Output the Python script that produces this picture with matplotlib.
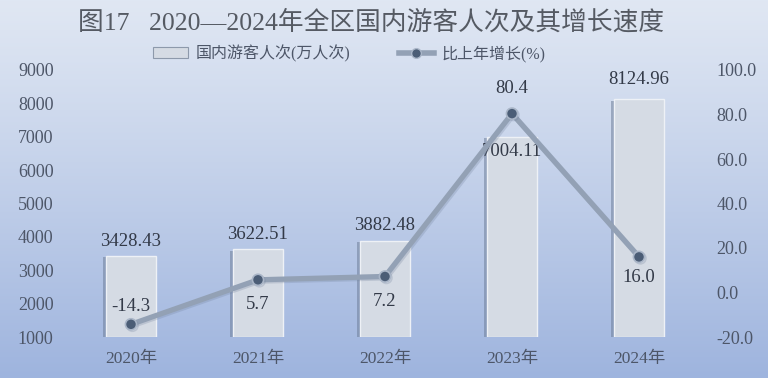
import numpy as np
import matplotlib
matplotlib.use("Agg")
import matplotlib.pyplot as plt
from matplotlib.patches import Rectangle
from matplotlib.lines import Line2D
import matplotlib.patheffects as pe

plt.rcParams['font.family'] = ['Liberation Serif', 'Noto Sans CJK SC', 'DejaVu Sans']

years = ["2020年", "2021年", "2022年", "2023年", "2024年"]
visitors = [3428.43, 3622.51, 3882.48, 7004.11, 8124.96]
growth = [-14.3, 5.7, 7.2, 80.4, 16.0]
left_ticks = [1000, 2000, 3000, 4000, 5000, 6000, 7000, 8000, 9000]
right_ticks = [-20, 0, 20, 40, 60, 80, 100]

TXT = '#4d5668'
BAR_FACE = '#d5dbe4'
LINE_C = '#93a1b5'
MARK_C = '#4b5d76'

fig = plt.figure(figsize=(7.68, 3.78), dpi=100)

# gradient background
bg = fig.add_axes([0, 0, 1, 1], zorder=-10)
grad = np.linspace(0, 1, 256).reshape(-1, 1)
top = np.array([0.878, 0.906, 0.953])
bot = np.array([0.620, 0.706, 0.871])
img = top + (bot - top) * grad[:, :, None] ** 1.1
bg.imshow(img, aspect='auto', extent=[0, 1, 0, 1])
bg.axis('off')

ax = fig.add_axes([67.5 / 768, 41 / 378, 635 / 768, 267 / 378])
ax.patch.set_alpha(0)
x = np.arange(len(years))
bars = ax.bar(x, np.array(visitors) - 1000, bottom=1000, width=0.39,
              color=BAR_FACE, edgecolor='#eef1f6', linewidth=1.0, zorder=2)
for b in bars:
    b.set_path_effects([pe.SimplePatchShadow(offset=(-2.5, -1), shadow_rgbFace='#6f7f9a', alpha=0.55),
                        pe.Normal()])
ax.set_xlim(-0.5, len(years) - 0.5)
ax.set_ylim(1000, 9000)
ax.set_yticks(left_ticks)
ax.set_xticks(x)
ax.set_xticklabels(years, fontsize=12.5, color=TXT)
ax.tick_params(axis='y', length=0, pad=10, labelsize=13, labelcolor=TXT)
ax.tick_params(axis='x', length=0, pad=10)
for s in ax.spines.values():
    s.set_visible(False)

bar_offsets = [10.5, 11, 11, -11, 14]
for xi, v, off in zip(x, visitors, bar_offsets):
    ax.annotate(f"{v:.2f}", (xi, v), xytext=(0, off), textcoords='offset points',
                ha='center', va='center', fontsize=13.5, color='#333a48', zorder=5)

ax2 = ax.twinx()
ax2.patch.set_alpha(0)
ax2.plot(x, growth, color=LINE_C, linewidth=3.8, solid_capstyle='round',
         marker='o', markersize=8, markerfacecolor=MARK_C, markeredgecolor='#aab6c8',
         markeredgewidth=1.2, zorder=4,
         path_effects=[pe.SimpleLineShadow(offset=(1, -1), shadow_color='#6f7f9a', alpha=0.25), pe.Normal()])
ax2.set_ylim(-20, 100)
ax2.set_yticks(right_ticks)
ax2.set_yticklabels([f"{t:.1f}" for t in right_ticks])
ax2.tick_params(axis='y', length=0, pad=10, labelsize=13, labelcolor=TXT)
for s in ax2.spines.values():
    s.set_visible(False)

line_offsets = [13, -18, -18, 18, -14.5]
for xi, v, off in zip(x, growth, line_offsets):
    ax2.annotate(f"{v:.1f}", (xi, v), xytext=(0, off), textcoords='offset points',
                 ha='center', va='center', fontsize=13.5, color='#333a48', zorder=6)

fig.text(0.483, 0.942, "图17   2020—2024年全区国内游客人次及其增长速度",
         ha='center', va='center', fontsize=18.5, color='#555a63')

handles = [Rectangle((0, 0), 1, 1, facecolor=BAR_FACE, edgecolor='#8d99ab', linewidth=0.8),
           Line2D([0], [0], color=LINE_C, linewidth=4, marker='o', markersize=7,
                  markerfacecolor=MARK_C, markeredgecolor='#aab6c8')]
fig.legend(handles, ["国内游客人次(万人次)", "比上年增长(%)"], loc='center',
           bbox_to_anchor=(0.455, 0.858), ncol=2, frameon=False, fontsize=11.5,
           labelcolor=TXT, handlelength=2.2, columnspacing=3.0, handletextpad=0.5)

fig.savefig("out.png", dpi=100)
